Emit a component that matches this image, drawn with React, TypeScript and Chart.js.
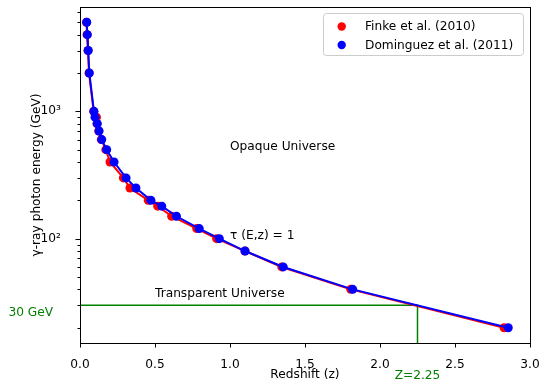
import React, { useEffect, useRef } from 'react';
import { Chart, registerables } from 'chart.js';

Chart.register(...registerables);

// Photon energy (GeV) at which tau(E,z) = 1
const energyGeV = [5000, 4000, 3000, 2000, 1000, 900, 800, 700, 600, 500, 400, 300, 250, 200, 180, 150, 120, 100, 80, 60, 40, 20];
// Redshift values for each model
const zFinke = [0.043, 0.047, 0.053, 0.06, 0.091, 0.11, 0.113, 0.125, 0.142, 0.172, 0.2, 0.289, 0.333, 0.455, 0.518, 0.611, 0.778, 0.911, 1.1, 1.345, 1.805, 2.827];
const zDominguez = [0.045, 0.049, 0.055, 0.062, 0.093, 0.1, 0.115, 0.127, 0.145, 0.178, 0.227, 0.307, 0.373, 0.473, 0.545, 0.643, 0.795, 0.929, 1.1, 1.355, 1.818, 2.855];

const seriesNames = ['Finke et al. (2010)', 'Dominguez et al. (2011)'];

const xTicks = [0, 0.5, 1.0, 1.5, 2.0, 2.5, 3.0];
const yMajorTicks = [100, 1000];
const yMinorTicks = [20, 30, 40, 50, 60, 70, 80, 90, 200, 300, 400, 500, 600, 700, 800, 900, 2000, 3000, 4000, 5000, 6000];
const yTickLabels: Record<number, string> = { 100: '10²', 1000: '10³' };

const thresholdEnergy = 30;
const thresholdZ = 2.25;

const FONT = 'DejaVu Sans';
const FS = 12.2;

const App: React.FC = () => {
  const canvasRef = useRef<HTMLCanvasElement | null>(null);

  useEffect(() => {
    document.body.style.margin = '0';
    const canvas = canvasRef.current;
    if (!canvas) return;

    const overlay = {
      id: 'overlay',
      afterDraw(chart: any) {
        const { ctx, chartArea } = chart;
        const xs = chart.scales.x;
        const ys = chart.scales.y;
        const { left, right, top, bottom } = chartArea;
        ctx.save();
        // frame
        ctx.strokeStyle = '#000';
        ctx.lineWidth = 1;
        ctx.strokeRect(Math.round(left) + 0.5, Math.round(top) + 0.5, Math.round(right - left), Math.round(bottom - top));
        // ticks
        ctx.beginPath();
        xTicks.forEach((v) => {
          const px = Math.round(xs.getPixelForValue(v)) + 0.5;
          ctx.moveTo(px, bottom);
          ctx.lineTo(px, bottom + 4.5);
        });
        yMajorTicks.forEach((v) => {
          const py = Math.round(ys.getPixelForValue(v)) + 0.5;
          ctx.moveTo(left, py);
          ctx.lineTo(left - 4.5, py);
        });
        yMinorTicks.forEach((v) => {
          const py = Math.round(ys.getPixelForValue(v)) + 0.5;
          ctx.moveTo(left, py);
          ctx.lineTo(left - 2.5, py);
        });
        ctx.stroke();

        // annotations
        ctx.font = `${FS}px "${FONT}"`;
        ctx.textBaseline = 'alphabetic';
        ctx.textAlign = 'left';
        ctx.fillStyle = '#000';
        ctx.fillText('Opaque Universe', xs.getPixelForValue(1.0), ys.getPixelForValue(500));
        ctx.fillText('τ (E,z) = 1', xs.getPixelForValue(1.0), ys.getPixelForValue(100));
        ctx.fillText('Transparent Universe', xs.getPixelForValue(0.5), ys.getPixelForValue(35));
        ctx.fillStyle = 'green';
        ctx.fillText(`${thresholdEnergy} GeV`, xs.getPixelForValue(-0.477), ys.getPixelForValue(24.7));
        ctx.textAlign = 'center';
        ctx.fillText(`Z=${thresholdZ}`, xs.getPixelForValue(thresholdZ), 378.5);

        // legend
        const lx = 323.5, ly = 13.5, lw = 200, lh = 42;
        const r = 3;
        ctx.beginPath();
        ctx.moveTo(lx + r, ly);
        ctx.lineTo(lx + lw - r, ly);
        ctx.quadraticCurveTo(lx + lw, ly, lx + lw, ly + r);
        ctx.lineTo(lx + lw, ly + lh - r);
        ctx.quadraticCurveTo(lx + lw, ly + lh, lx + lw - r, ly + lh);
        ctx.lineTo(lx + r, ly + lh);
        ctx.quadraticCurveTo(lx, ly + lh, lx, ly + lh - r);
        ctx.lineTo(lx, ly + r);
        ctx.quadraticCurveTo(lx, ly, lx + r, ly);
        ctx.closePath();
        ctx.fillStyle = 'rgba(255,255,255,0.8)';
        ctx.fill();
        ctx.strokeStyle = '#cccccc';
        ctx.lineWidth = 1;
        ctx.stroke();
        const colors = ['#ff0000', '#0000ff'];
        ctx.textAlign = 'left';
        ctx.textBaseline = 'middle';
        seriesNames.forEach((name, i) => {
          const cy = 26.5 + i * 18.5;
          ctx.beginPath();
          ctx.arc(341.7, cy, 4.2, 0, Math.PI * 2);
          ctx.fillStyle = colors[i];
          ctx.fill();
          ctx.fillStyle = '#000';
          ctx.fillText(name, 365, cy + 0.5);
        });
        ctx.restore();
      },
    };

    const chart = new Chart(canvas, {
      type: 'line',
      data: {
        datasets: [
          {
            label: seriesNames[1],
            data: zDominguez.map((z, i) => ({ x: z, y: energyGeV[i] })),
            borderColor: '#0000ff',
            backgroundColor: '#0000ff',
            borderWidth: 2,
            pointRadius: 4.5,
            pointBorderWidth: 0,
            pointBackgroundColor: '#0000ff',
            tension: 0,
          },
          {
            label: seriesNames[0],
            data: zFinke.map((z, i) => ({ x: z, y: energyGeV[i] })),
            borderColor: '#ff0000',
            backgroundColor: '#ff0000',
            borderWidth: 2,
            pointRadius: 4.5,
            pointBorderWidth: 0,
            pointBackgroundColor: '#ff0000',
            tension: 0,
          },
          {
            label: 'threshold',
            data: [
              { x: 0, y: thresholdEnergy },
              { x: thresholdZ, y: thresholdEnergy },
              { x: thresholdZ, y: 1 },
            ],
            borderColor: 'green',
            borderWidth: 1.5,
            pointRadius: 0,
            tension: 0,
            clip: 0,
          } as any,
        ],
      },
      options: {
        responsive: false,
        animation: false,
        devicePixelRatio: 1,
        layout: { padding: { top: 7, right: 9, left: 0, bottom: 0 } },
        plugins: {
          legend: { display: false },
          tooltip: { enabled: false },
        },
        scales: {
          x: {
            type: 'linear',
            min: 0,
            max: 3,
            afterBuildTicks: (s: any) => {
              s.ticks = xTicks.map((v) => ({ value: v }));
            },
            afterFit: (s: any) => {
              s.height = 39;
              s.paddingLeft = 0;
              s.paddingRight = 0;
            },
            grid: { display: false },
            border: { display: false },
            ticks: {
              padding: 7,
              color: '#000',
              font: { family: FONT, size: FS },
              maxRotation: 0,
              autoSkip: false,
              callback: (v: any) => Number(v).toFixed(1),
            },
            title: {
              display: true,
              text: 'Redshift (z)',
              color: '#000',
              font: { family: FONT, size: FS },
              padding: { top: 0, bottom: 0 },
            },
          },
          y: {
            type: 'logarithmic',
            min: 15.17,
            max: 6592,
            afterBuildTicks: (s: any) => {
              s.ticks = [...yMinorTicks, ...yMajorTicks].sort((a, b) => a - b).map((v) => ({ value: v }));
            },
            afterFit: (s: any) => {
              s.width = 80;
              s.paddingTop = 0;
              s.paddingBottom = 0;
            },
            grid: { display: false },
            border: { display: false },
            ticks: {
              padding: 11,
              color: '#000',
              font: { family: FONT, size: FS },
              autoSkip: false,
              callback: (v: any) => yTickLabels[Number(v)] ?? '',
            },
            title: {
              display: true,
              text: 'γ-ray photon energy (GeV)',
              color: '#000',
              font: { family: FONT, size: FS },
              padding: { top: 29.5, bottom: 0 },
            },
          },
        },
      },
      plugins: [overlay],
    } as any);

    return () => chart.destroy();
  }, []);

  return (
    <div style={{ position: 'absolute', left: 0, top: 0, width: 539, height: 382 }}>
      <canvas ref={canvasRef} width={539} height={382} />
    </div>
  );
};

export default App;
